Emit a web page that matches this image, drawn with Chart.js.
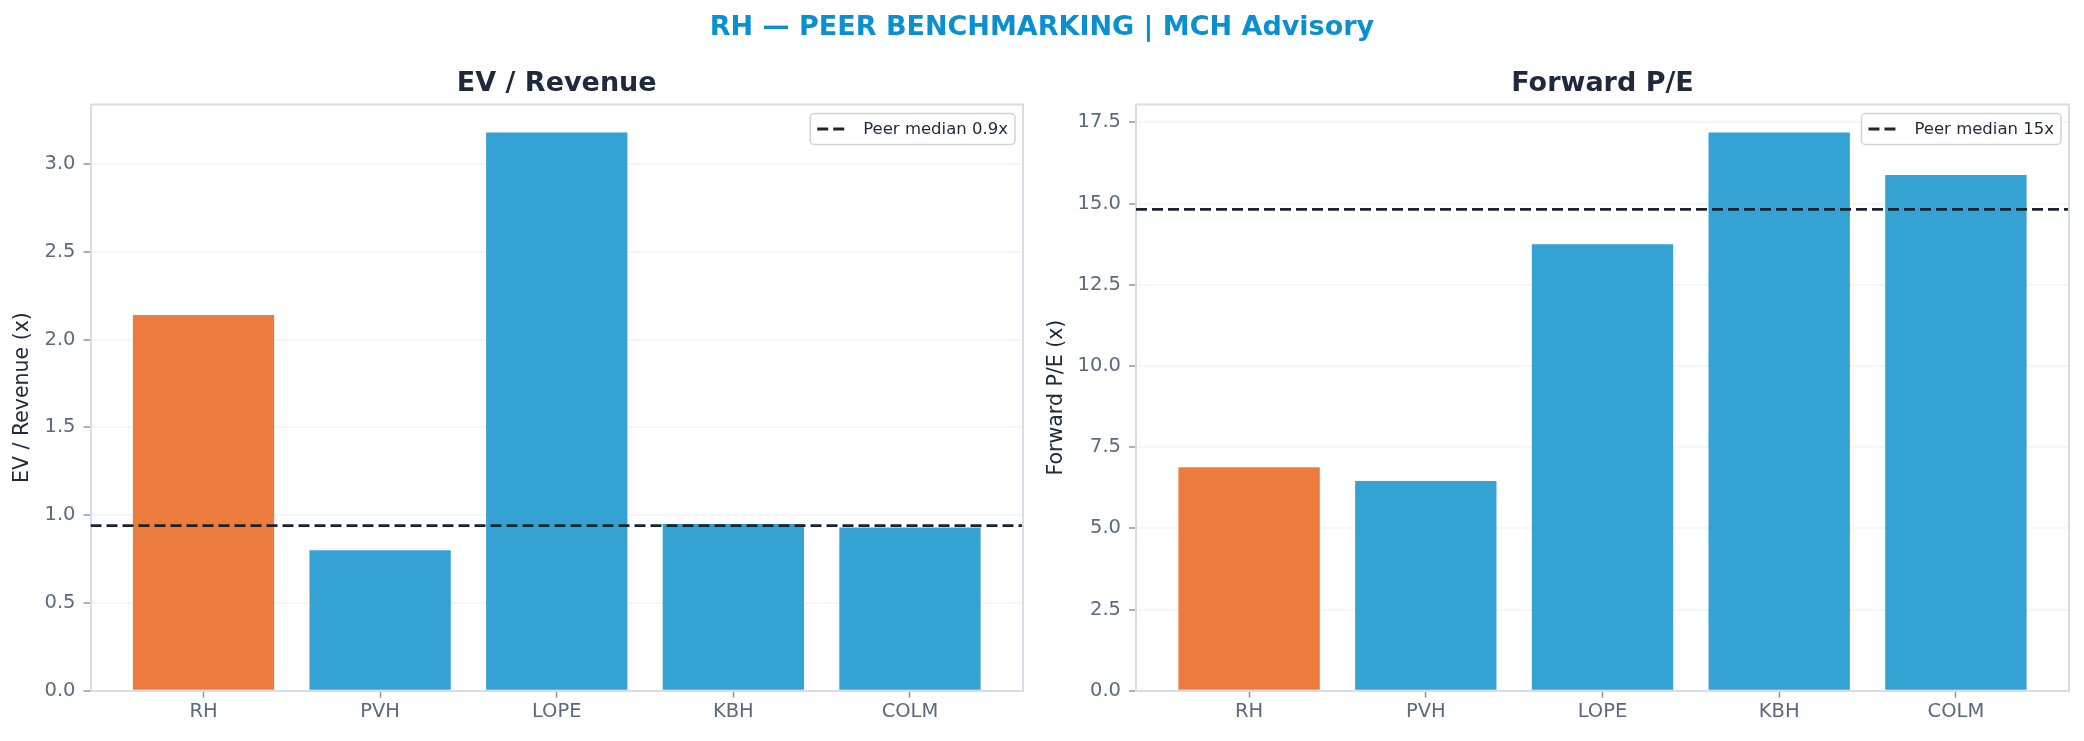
<!DOCTYPE html>
<html>
<head>
<meta charset="utf-8">
<script src="https://cdn.jsdelivr.net/npm/chart.js@4"></script>
<style>
  body { margin: 0; background: #ffffff; }
  #wrap { position: relative; width: 2084px; height: 741px; overflow: hidden; }
  #suptitle {
    position: absolute; left: 0; top: 10px; width: 2084px; height: 30px;
    line-height: 30px; text-align: center;
    font: bold 27px "DejaVu Sans", sans-serif; color: #0A8FD0;
  }
  canvas { position: absolute; top: 0; }
</style>
</head>
<body>
<div id="wrap">
  <canvas id="evChart" width="1042" height="741" style="left:0"></canvas>
  <canvas id="peChart" width="1042" height="741" style="left:1042px"></canvas>
  <div id="suptitle">RH — PEER BENCHMARKING | MCH Advisory</div>
</div>
<script>
// company tickers (RH is the subject, the rest are peers)
const tickers = ["RH", "PVH", "LOPE", "KBH", "COLM"];

// EV / Revenue multiples
const evRevenue = [2.14, 0.80, 3.18, 0.95, 0.93];
const evMedian = 0.94;
const evMedianLabel = "Peer median 0.9x";
const evTicks = [0, 0.5, 1.0, 1.5, 2.0, 2.5, 3.0];

// Forward P/E multiples
const forwardPE = [6.88, 6.46, 13.75, 17.19, 15.88];
const peMedian = 14.82;
const peMedianLabel = "Peer median 15x";
const peTicks = [0, 2.5, 5.0, 7.5, 10.0, 12.5, 15.0, 17.5];

const subjectColor = "#EC7C3E";
const peerColor = "#34A3D3";
const xMin = -0.64;
const xMax = 4.64;

// draws the panel title, the top/right spines and an in-plot legend box
const framePlugin = {
    id: "frame",
    afterDraw(chart, args, opts) {
        const { ctx, chartArea: a } = chart;
        ctx.save();
        ctx.strokeStyle = "#D5DDE6";
        ctx.lineWidth = 2;
        ctx.beginPath();
        ctx.moveTo(a.left, a.top);
        ctx.lineTo(a.right, a.top);
        ctx.lineTo(a.right, a.bottom);
        ctx.stroke();

        ctx.fillStyle = "#1E293B";
        ctx.font = "bold 27px 'DejaVu Sans'";
        ctx.textAlign = "center";
        ctx.textBaseline = "middle";
        ctx.fillText(opts.title, (a.left + a.right) / 2, 84);
        ctx.textAlign = "left";

        const ds = chart.data.datasets.find(d => d.type === "line");
        if (ds) {
            ctx.font = "16.5px 'DejaVu Sans'";
            const tw = ctx.measureText(ds.label).width;
            const w = 60 + tw, h = 31;
            const x = a.right - 8 - w, y = a.top + 9;
            ctx.fillStyle = "rgba(255,255,255,0.85)";
            ctx.strokeStyle = "#D0D4D9";
            ctx.lineWidth = 1.5;
            ctx.beginPath();
            ctx.roundRect(x, y, w, h, 4);
            ctx.fill();
            ctx.stroke();

            ctx.strokeStyle = ds.borderColor;
            ctx.lineWidth = ds.borderWidth;
            ctx.setLineDash(ds.borderDash);
            ctx.beginPath();
            ctx.moveTo(x + 7, y + h / 2);
            ctx.lineTo(x + 38, y + h / 2);
            ctx.stroke();
            ctx.setLineDash([]);

            ctx.fillStyle = "#1E293B";
            ctx.textBaseline = "middle";
            ctx.fillText(ds.label, x + 53, y + h / 2 + 1);
        }
        ctx.restore();
    }
};

function makeChart(el, title, axisTitle, values, median, medianLabel, ticks, yMax, axisWidth, rightPad, titlePad) {
    new Chart(el, {
        type: "bar",
        data: {
            datasets: [
                {
                    type: "line",
                    label: medianLabel,
                    data: [{ x: xMin, y: median }, { x: xMax, y: median }],
                    borderColor: "#1A2433",
                    borderWidth: 2.8,
                    borderDash: [11, 5],
                    pointRadius: 0,
                    order: 0
                },
                {
                    label: axisTitle,
                    data: values.map((v, i) => ({ x: i, y: v })),
                    backgroundColor: tickers.map(t => t === "RH" ? subjectColor : peerColor),
                    barPercentage: 0.8,
                    categoryPercentage: 1.0,
                    order: 1
                }
            ]
        },
        options: {
            responsive: false,
            animation: false,
            layout: { padding: { left: 0, right: rightPad, top: 104.5, bottom: 0 } },
            plugins: {
                legend: { display: false },
                tooltip: { enabled: false },
                title: { display: false },
                frame: { title: title }
            },
            scales: {
                x: {
                    type: "linear",
                    min: xMin,
                    max: xMax,
                    offset: false,
                    afterBuildTicks: scale => {
                        scale.ticks = tickers.map((t, i) => ({ value: i }));
                    },
                    afterFit: scale => { scale.height = 50.3; },
                    ticks: {
                        callback: v => tickers[v],
                        color: "#5B6B7F",
                        font: { family: "DejaVu Sans", size: 19.5 },
                        padding: 3,
                        maxRotation: 0
                    },
                    grid: {
                        offset: false,
                        drawOnChartArea: false,
                        drawTicks: true,
                        tickLength: 7,
                        tickColor: "#8A94A3",
                        tickWidth: 1.5
                    },
                    border: { display: true, color: "#D5DDE6", width: 2 }
                },
                y: {
                    min: 0,
                    max: yMax,
                    z: 1,
                    afterBuildTicks: scale => {
                        scale.ticks = ticks.map(v => ({ value: v }));
                    },
                    afterFit: scale => { scale.width = axisWidth; },
                    title: {
                        display: true,
                        text: axisTitle,
                        color: "#1E293B",
                        font: { family: "DejaVu Sans", size: 20.5, lineHeight: 1.2 },
                        padding: { top: titlePad, bottom: 0 }
                    },
                    ticks: {
                        callback: v => v.toFixed(1),
                        color: "#5B6B7F",
                        font: { family: "DejaVu Sans", size: 19.5 },
                        padding: 8
                    },
                    grid: {
                        color: "rgba(226,232,240,0.38)",
                        lineWidth: 2,
                        tickLength: 7,
                        tickColor: "#8A94A3",
                        tickWidth: 1.5
                    },
                    border: { display: true, color: "#D5DDE6", width: 2 }
                }
            }
        },
        plugins: [framePlugin]
    });
}

makeChart(document.getElementById("evChart"), "EV / Revenue", "EV / Revenue (x)",
    evRevenue, evMedian, evMedianLabel, evTicks, 3.339, 90.5, 19, 10.7);

makeChart(document.getElementById("peChart"), "Forward P/E", "Forward P/E (x)",
    forwardPE, peMedian, peMedianLabel, peTicks, 18.05, 94, 15, 2);
</script>
</body>
</html>
